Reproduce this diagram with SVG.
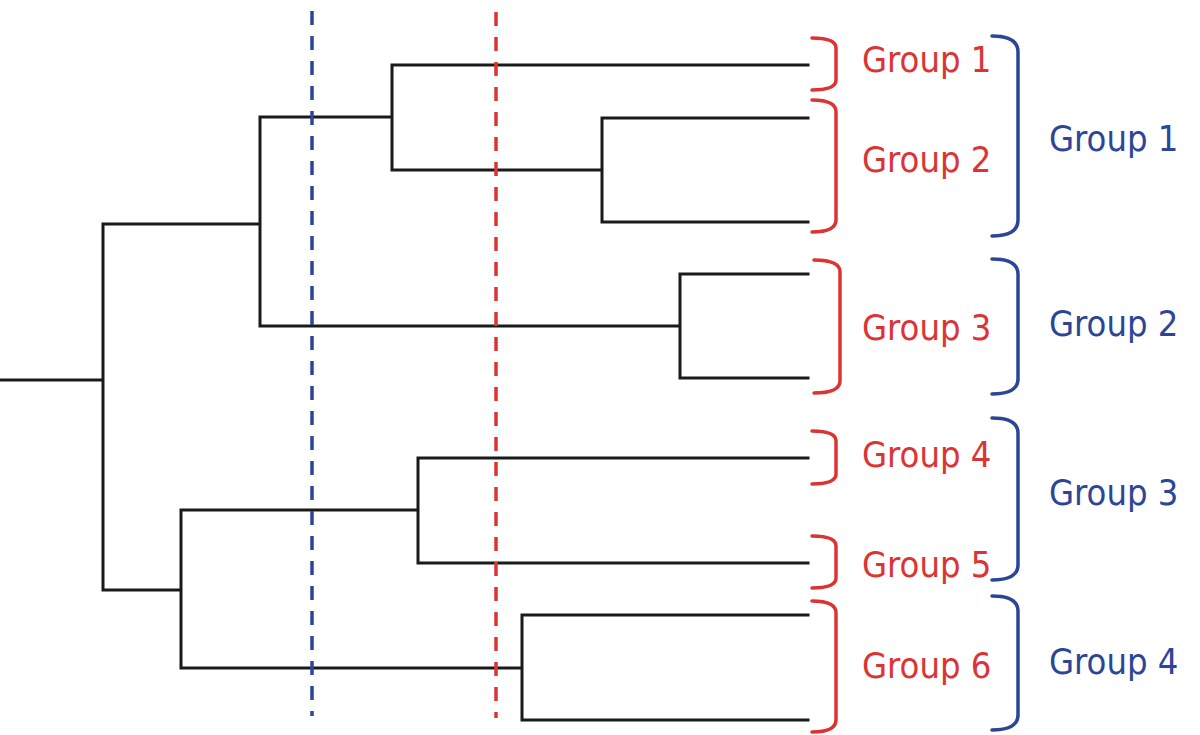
<svg xmlns="http://www.w3.org/2000/svg" width="1200" height="735" viewBox="0 0 1200 735">
<style>
.tree{fill:none;stroke:#1a1a1a;stroke-width:3;stroke-linecap:square}
.cutB{fill:none;stroke:#2d4596;stroke-width:3.5;stroke-dasharray:14 11}
.cutR{fill:none;stroke:#dc3434;stroke-width:3.5;stroke-dasharray:14 11}
.br{fill:none;stroke:#dc3434;stroke-width:3.5;stroke-linecap:round}
.bb{fill:none;stroke:#2d4596;stroke-width:3.5;stroke-linecap:round}
.lr{font-family:"DejaVu Sans Condensed","DejaVu Sans",sans-serif;font-stretch:condensed;font-size:36px;fill:#dc3434}
.lb{font-family:"DejaVu Sans Condensed","DejaVu Sans",sans-serif;font-stretch:condensed;font-size:36px;fill:#2d4596}
</style>
<rect width="1200" height="735" fill="#ffffff"/>
<g id="connectors">
<path class="tree" d="M0,380 H103 M103,224 V590 M103,224 H260 M260,117 V326 M260,117 H392 M392,65 V170 M392,65 H808 M392,170 H602 M602,118 V222 M602,118 H808 M602,222 H808 M260,326 H680 M680,274 V378 M680,274 H808 M680,378 H808 M103,590 H181 M181,510 V668 M181,510 H418 M418,458 V563 M418,458 H808 M418,563 H808 M181,668 H522 M522,615 V720 M522,615 H808 M522,720 H808"/>
</g>
<g id="cut-lines">
<line class="cutB" x1="312" y1="11" x2="312" y2="716"/>
<line class="cutR" x1="496" y1="12" x2="496" y2="718"/>
</g>
<g id="red-group-1">
<path class="br" d="M812,38 Q836,38 836,48 V80 Q836,90 812,90"/>
<text class="lr" x="862" y="72">Group 1</text>
</g>
<g id="red-group-2">
<path class="br" d="M812,100 Q836,100 836,112 V220 Q836,232 812,232"/>
<text class="lr" x="862" y="172">Group 2</text>
</g>
<g id="red-group-3">
<path class="br" d="M814,260 Q840,260 840,272 V381 Q840,393 814,393"/>
<text class="lr" x="862" y="340">Group 3</text>
</g>
<g id="red-group-4">
<path class="br" d="M812,431 Q836,431 836,441 V474 Q836,484 812,484"/>
<text class="lr" x="862" y="467">Group 4</text>
</g>
<g id="red-group-5">
<path class="br" d="M812,536 Q836,536 836,546 V578 Q836,588 812,588"/>
<text class="lr" x="862" y="577">Group 5</text>
</g>
<g id="red-group-6">
<path class="br" d="M812,601 Q836,601 836,613 V720 Q836,732 812,732"/>
<text class="lr" x="862" y="678">Group 6</text>
</g>
<g id="blue-group-1">
<path class="bb" d="M992,36 Q1018,36 1018,52 V220 Q1018,236 992,236"/>
<text class="lb" x="1049" y="151">Group 1</text>
</g>
<g id="blue-group-2">
<path class="bb" d="M992,259 Q1018,259 1018,274 V379 Q1018,394 992,394"/>
<text class="lb" x="1049" y="336">Group 2</text>
</g>
<g id="blue-group-3">
<path class="bb" d="M992,418 Q1018,418 1018,433 V565 Q1018,580 992,580"/>
<text class="lb" x="1049" y="505">Group 3</text>
</g>
<g id="blue-group-4">
<path class="bb" d="M992,596 Q1018,596 1018,611 V715 Q1018,730 992,730"/>
<text class="lb" x="1049" y="674">Group 4</text>
</g>
</svg>
